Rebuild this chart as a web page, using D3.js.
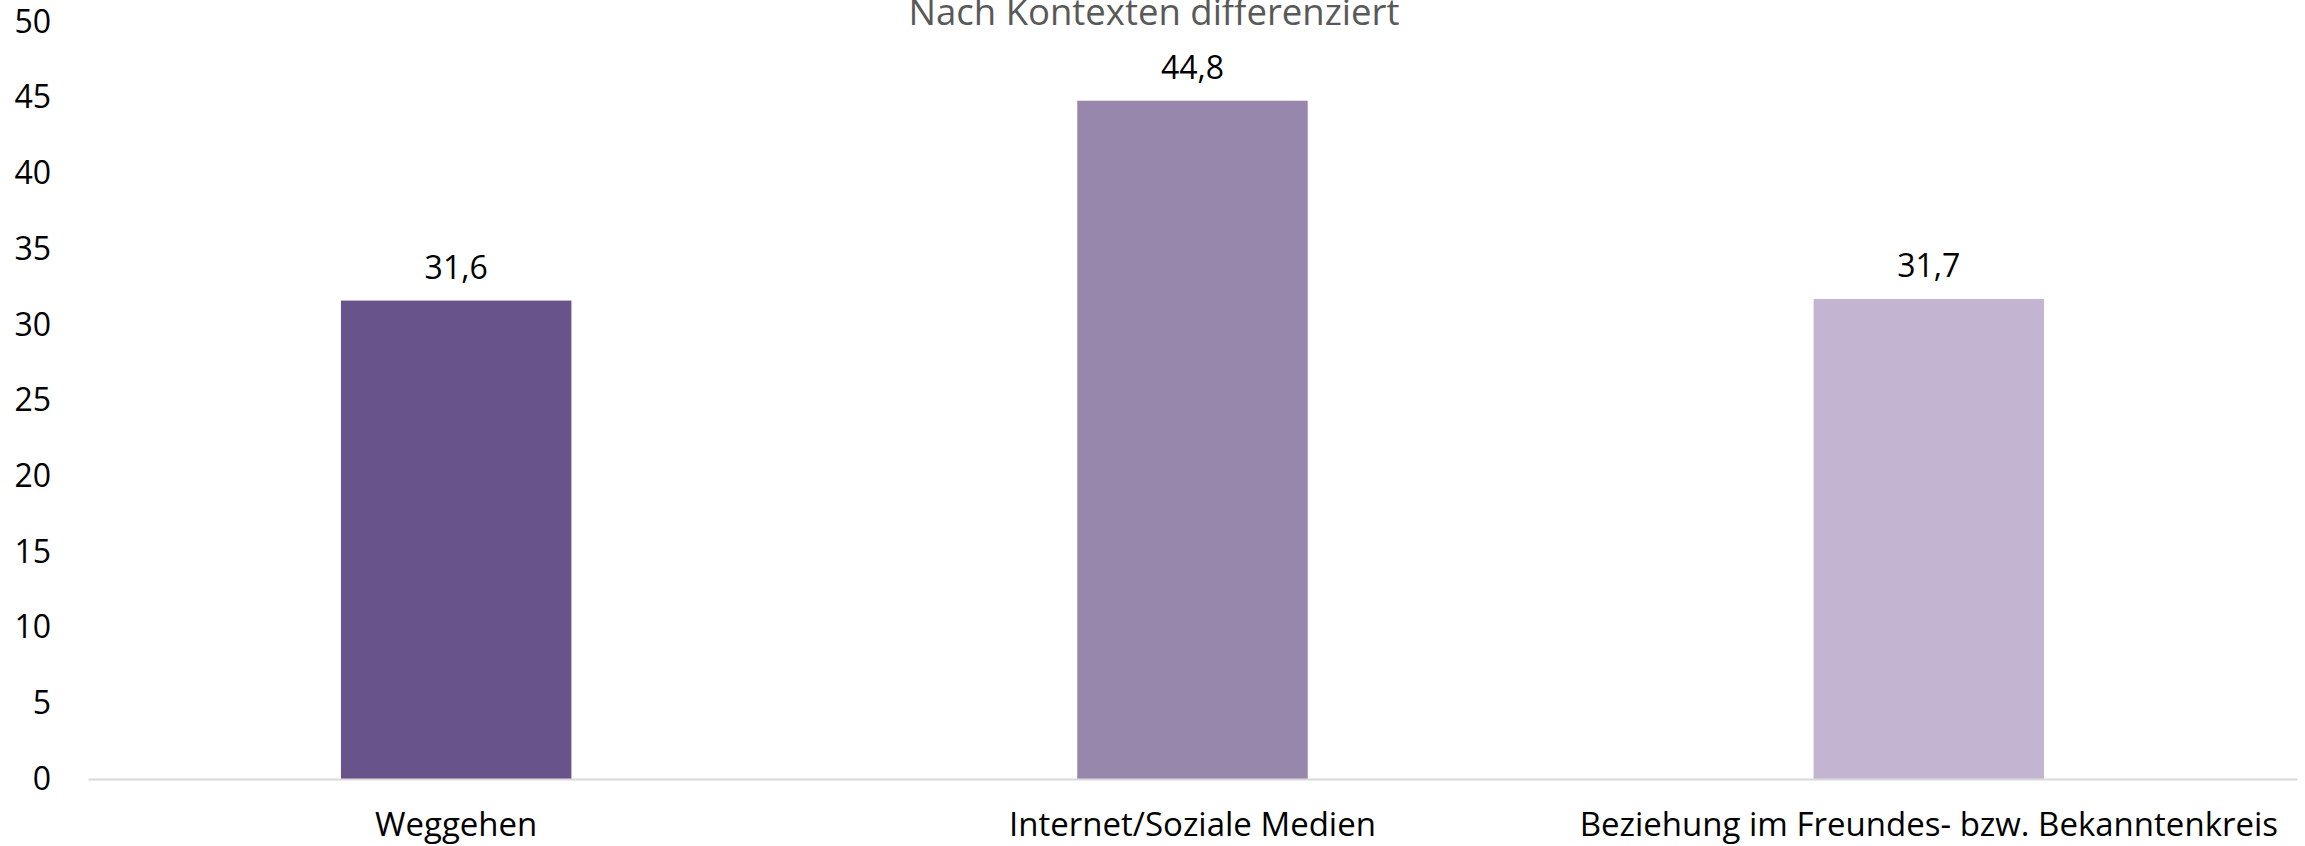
<!DOCTYPE html>
<html>
<head>
<meta charset="utf-8">
<script src="https://cdn.jsdelivr.net/npm/d3@7"></script>
<style>
    body { margin: 0; background: #fff; }
    svg { display: block; font-family: "Open Sans", sans-serif; }
</style>
</head>
<body>
<div id="chart"></div>
<script>
// data
const categories = ["Weggehen", "Internet/Soziale Medien", "Beziehung im Freundes- bzw. Bekanntenkreis"];
const values = [31.6, 44.8, 31.7];
const valueLabels = ["31,6", "44,8", "31,7"];
const barColors = ["#68548a", "#9787ad", "#c3b4d2"];
const yTicks = [0, 5, 10, 15, 20, 25, 30, 35, 40, 45, 50];
const title = "Nach Kontexten differenziert";

const width = 2305;
const height = 846;
const marginLeft = 88;
const marginRight = 8;
const marginTop = 22;
const baseline = 779;

const data = categories.map((c, i) => ({ name: c, value: values[i], label: valueLabels[i], color: barColors[i] }));

const x = d3.scaleBand()
    .domain(categories)
    .range([marginLeft, width - marginRight])
    .paddingInner(0.687)
    .paddingOuter(0.3435);

const y = d3.scaleLinear()
    .domain([0, 50])
    .range([baseline, marginTop]);

const svg = d3.select("#chart").append("svg")
    .attr("width", width)
    .attr("height", height)
    .attr("viewBox", [0, 0, width, height]);

// title, partly cut off at the top like in the original
svg.append("text")
    .attr("x", 1154)
    .attr("y", 25)
    .attr("text-anchor", "middle")
    .attr("fill", "#595959")
    .attr("font-size", 36.5)
    .text(title);

// y axis, labels only
svg.append("g")
    .attr("transform", `translate(51,0)`)
    .call(d3.axisLeft(y).tickValues(yTicks).tickSize(0).tickPadding(0))
    .call(g => g.select(".domain").remove())
    .call(g => g.selectAll("text")
        .attr("font-size", 32)
        .attr("font-family", "Open Sans, sans-serif")
        .attr("fill", "#000"));

// bars
svg.append("g")
    .selectAll("rect")
    .data(data)
    .join("rect")
    .attr("x", d => x(d.name))
    .attr("y", d => y(d.value))
    .attr("width", x.bandwidth())
    .attr("height", d => y(0) - y(d.value))
    .attr("fill", d => d.color);

// x axis
svg.append("g")
    .attr("transform", `translate(0,${baseline})`)
    .call(d3.axisBottom(x).tickSize(0).tickSizeOuter(0))
    .call(g => g.select(".domain")
        .attr("stroke", "#d9d9d9")
        .attr("stroke-width", 2))
    .call(g => g.selectAll("text")
        .attr("y", 57)
        .attr("dy", 0)
        .attr("font-size", 33)
        .attr("font-family", "Open Sans, sans-serif")
        .attr("fill", "#000"));

// value labels
svg.append("g")
    .selectAll("text")
    .data(data)
    .join("text")
    .attr("x", d => x(d.name) + x.bandwidth() / 2)
    .attr("y", d => y(d.value) - 22)
    .attr("text-anchor", "middle")
    .attr("font-size", 32)
    .attr("fill", "#000")
    .text(d => d.label);
</script>
</body>
</html>
